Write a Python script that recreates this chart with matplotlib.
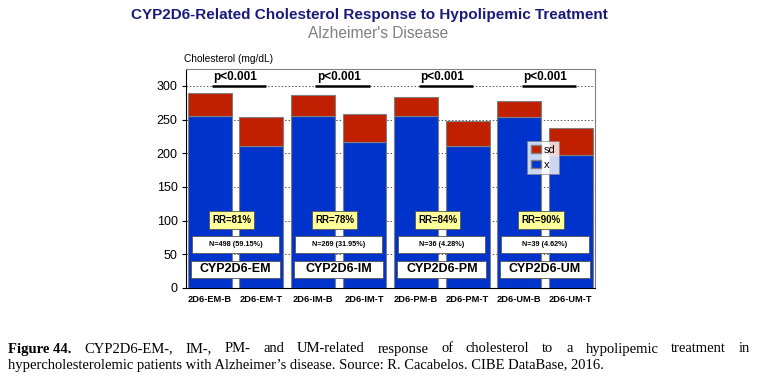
import matplotlib
matplotlib.use("Agg")
import matplotlib.pyplot as plt
from matplotlib.patches import Patch, Rectangle
import numpy as np

categories = ["2D6-EM-B", "2D6-EM-T", "2D6-IM-B", "2D6-IM-T",
              "2D6-PM-B", "2D6-PM-T", "2D6-UM-B", "2D6-UM-T"]
mean_x = [255, 211, 255, 216, 255, 210, 254, 197]
sd = [34, 43, 31, 42, 29, 38, 24, 40]
groups = ["CYP2D6-EM", "CYP2D6-IM", "CYP2D6-PM", "CYP2D6-UM"]
rr_labels = ["RR=81%", "RR=78%", "RR=84%", "RR=90%"]
n_labels = ["N=498 (59.15%)", "N=269 (31.95%)", "N=36 (4.28%)", "N=39 (4.62%)"]
p_labels = ["p<0.001", "p<0.001", "p<0.001", "p<0.001"]
yticks = [0, 50, 100, 150, 200, 250, 300]

BLUE = "#0033CC"
RED = "#C02000"
plt.rcParams["font.family"] = ["Liberation Sans", "DejaVu Sans"]

W, H = 758, 378
fig = plt.figure(figsize=(W / 100, H / 100), dpi=100)
ax = fig.add_axes([186 / W, 1 - 288 / H, (595 - 186) / W, (288 - 69) / H])

x = np.arange(len(categories))
ax.bar(x, mean_x, width=0.85, color=BLUE, edgecolor="#808080", linewidth=0.8, zorder=3)
ax.bar(x, sd, bottom=mean_x, width=0.85, color=RED, edgecolor="#808080", linewidth=0.8, zorder=3)

ax.set_xlim(-0.46, 7.47)
ax.set_ylim(0, 325)
ax.set_yticks(yticks)
ax.set_yticklabels([str(v) for v in yticks], fontsize=9)
ax.set_xticks(x)
ax.set_xticklabels(categories, fontsize=6.7, fontweight="bold")
ax.tick_params(axis="x", length=0, pad=5)
ax.tick_params(axis="y", length=3, pad=3)
ax.yaxis.grid(True, linestyle=(0, (1.5, 2)), color="#555555", linewidth=0.7, zorder=0)
for s in ax.spines.values():
    s.set_color("#808080")
    s.set_linewidth(0.8)
ax.spines["left"].set_color("black")
ax.spines["bottom"].set_color("black")


def box(cx, cy, w, h, fc):
    ax.add_patch(Rectangle((cx - w / 2, cy - h / 2), w, h, facecolor=fc,
                           edgecolor="#555555", linewidth=0.6, zorder=5))


for g in range(4):
    cx = 2 * g + 0.5
    # p-value label with underline
    ax.text(cx, 304, p_labels[g], ha="center", va="bottom", fontsize=8.5,
            fontweight="bold", zorder=5)
    ax.plot([cx - 0.45, cx + 0.6], [300, 300], color="black", lw=1.8,
            zorder=5, clip_on=False, solid_capstyle="butt")
    # RR box
    box(cx - 0.08, 101, 0.88, 28, "#FFFF99")
    ax.text(cx - 0.08, 101, rr_labels[g], ha="center", va="center", fontsize=7,
            fontweight="bold", zorder=6)
    # N box
    box(cx, 64.5, 1.69, 25, "white")
    ax.text(cx, 64.5, n_labels[g], ha="center", va="center", fontsize=5.2,
            fontweight="bold", zorder=6)
    # group label box
    box(cx, 27.5, 1.73, 25, "white")
    ax.text(cx, 27.5, groups[g], ha="center", va="center", fontsize=9,
            fontweight="bold", zorder=6)

handles = [Patch(facecolor=RED, edgecolor="#808080", label="sd"),
           Patch(facecolor=BLUE, edgecolor="#808080", label="x")]
leg = ax.legend(handles=handles, loc="upper left",
                bbox_to_anchor=((527 - 186) / (595 - 186), 1 - (141 - 69) / (288 - 69)),
                fontsize=8, frameon=True, fancybox=False, handlelength=0.9,
                handleheight=0.8, handletextpad=0.25, borderpad=0.35,
                labelspacing=0.45, borderaxespad=0)
leg.get_frame().set_edgecolor("#808080")
leg.get_frame().set_linewidth(0.6)
leg.set_zorder(7)

fig.text(369 / W, 1 - 15 / H, "CYP2D6-Related Cholesterol Response to Hypolipemic Treatment",
         ha="center", va="center", fontsize=11, fontweight="bold", color="#1A1A7A")
fig.text(378 / W, 1 - 33 / H, "Alzheimer's Disease", ha="center", va="center",
         fontsize=11.2, color="#808080")
fig.text(184 / W, 1 - 59 / H, "Cholesterol (mg/dL)", ha="left", va="center", fontsize=7.3)

# caption (justified first line)
serif = "Liberation Serif"
line1_words = ["CYP2D6-EM-,", "IM-,", "PM-", "and", "UM-related", "response", "of",
               "cholesterol", "to", "a", "hypolipemic", "treatment", "in"]
line2 = "hypercholesterolemic patients with Alzheimer\u2019s disease. Source: R. Cacabelos. CIBE DataBase, 2016."
fs = 10.5
y1 = 1 - 349 / H
y2 = 1 - 366 / H
x0, x1 = 8, 750
renderer = fig.canvas.get_renderer()
bold_t = fig.text(x0 / W, y1, "Figure 44.", ha="left", va="center", fontsize=fs,
                  fontweight="bold", family=serif)
bw = bold_t.get_window_extent(renderer).width
word_objs = []
widths = []
for wd in line1_words:
    t = fig.text(0, y1, wd, ha="left", va="center", fontsize=fs, family=serif)
    word_objs.append(t)
    widths.append(t.get_window_extent(renderer).width)
total = bw + sum(widths)
gap = (x1 - x0 - total) / len(line1_words)
cur = x0 + bw + gap
for t, w in zip(word_objs, widths):
    t.set_x(cur / W)
    cur += w + gap
fig.text(x0 / W, y2, line2, ha="left", va="center", fontsize=fs, family=serif)

fig.savefig("out.png", dpi=100)
